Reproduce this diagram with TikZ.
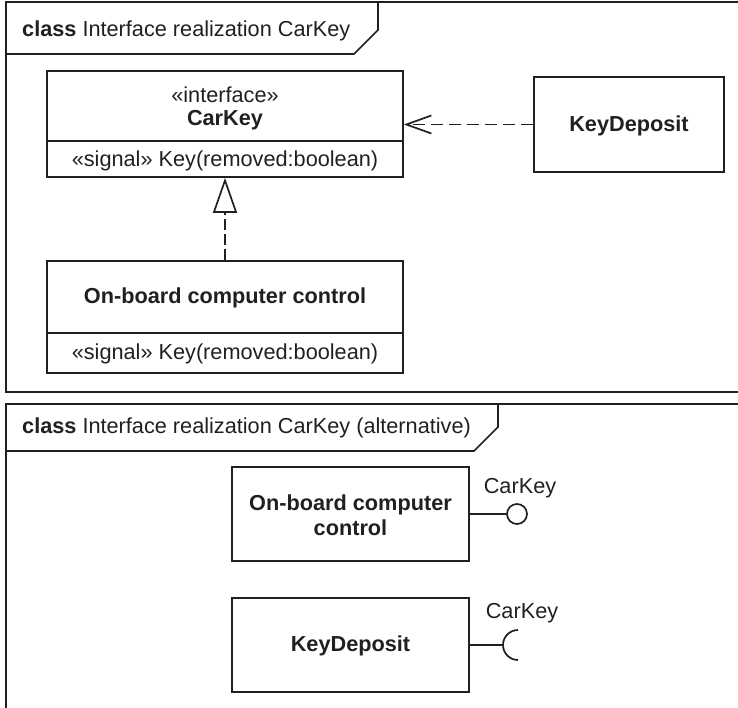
\documentclass[tikz,border=0pt]{standalone}
\usepackage{fontspec}
\setmainfont{Liberation Sans}
\usetikzlibrary{arrows.meta}
\definecolor{ink}{RGB}{35,31,32}
\tikzset{
  ln/.style={draw=ink, line width=1.7pt},
  umlbox/.style={ln, rectangle, inner sep=0pt},
  txt/.style={inner sep=0pt, text=ink, align=center},
  dep/.style={ln, dash pattern=on 12pt off 6pt, -{Straight Barb[length=25pt, width=18pt, line width=1.7pt]}},
  real/.style={ln, dash pattern=on 11pt off 4pt, -{Triangle[open, length=35pt, width=24pt, line width=1.7pt, fill=white]}},
}
\begin{document}
\begin{tikzpicture}[x=1pt, y=-1pt, font=\fontsize{21.7}{25}\selectfont, line join=miter]
\useasboundingbox (0,0) rectangle (738,708);
\clip (0,0) rectangle (738,708);

% ---------- top frame ----------
\draw[ln] (760,2) -- (6,2) -- (6,392) -- (760,392);
\draw[ln] (6,54) -- (354,54) -- (378,30) -- (378,2);
\node[txt, anchor=west] (t1) at (22,31) {\textbf{class} Interface realization CarKey};

% interface CarKey
\node[umlbox, minimum width=356pt, minimum height=106pt] (ik) at (225,124) {};
\draw[ln] (47,141) -- (403,141);
\node[txt] (ikst) at (225,95) {«interface»};
\node[txt] (ikn) at (225,120) {\textbf{CarKey}};
\node[txt] (iks) at (225,161) {«signal» Key(removed:boolean)};

% KeyDeposit
\node[umlbox, minimum width=190pt, minimum height=95pt] (kd) at (629,124.5) {};
\node[txt] (kdn) at (629,126) {\textbf{KeyDeposit}};

% On-board computer control
\node[umlbox, minimum width=356pt, minimum height=112pt] (ob) at (225,317) {};
\draw[ln] (47,333) -- (403,333);
\node[txt] (obn) at (225,298) {\textbf{On-board computer control}};
\node[txt] (obs) at (225,354) {«signal» Key(removed:boolean)};

\draw[dep] (kd.west) -- (ik.east |- kd.west);
\draw[real] (ob.north) -- (ik.south);

% ---------- bottom frame ----------
\draw[ln] (760,404) -- (6,404) -- (6,730);
\draw[ln] (6,451) -- (474,451) -- (498,427) -- (498,404);
\node[txt, anchor=west] (t2) at (22,428) {\textbf{class} Interface realization CarKey (alternative)};

% On-board computer control (provided interface)
\node[umlbox, minimum width=237pt, minimum height=94pt] (ob2) at (350.5,514) {};
\node[txt, font=\fontsize{21.7}{25}\selectfont\bfseries] (ob2n) at (350.5,515.5) {On-board computer\\control};
\node[ln, circle, minimum size=20pt, inner sep=0pt] (lp) at (517,514) {};
\draw[ln] (ob2.east) -- (lp.west);
\node[txt] (lpl) at (520,488) {CarKey};

% KeyDeposit (required interface)
\node[umlbox, minimum width=237pt, minimum height=94pt] (kd2) at (350.5,645) {};
\node[txt] (kd2n) at (350.5,646) {\textbf{KeyDeposit}};
\coordinate (sk) at (503,645);
\draw[ln] (kd2.east) -- (sk);
\draw[ln] (sk) arc[start angle=180, end angle=90, radius=15];
\draw[ln] (sk) arc[start angle=180, end angle=270, radius=15];
\node[txt] (skl) at (522,613) {CarKey};
\end{tikzpicture}
\end{document}
